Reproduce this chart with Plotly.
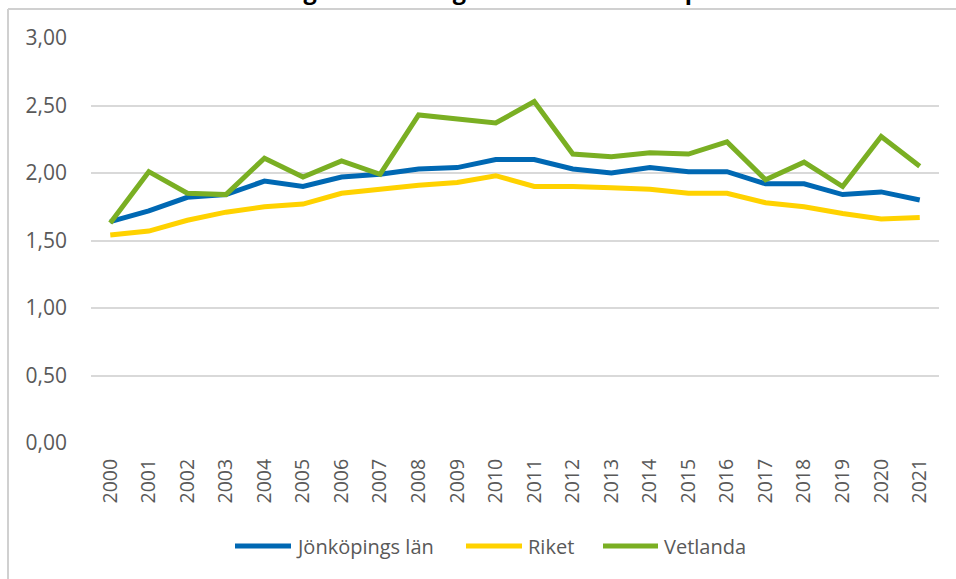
import plotly.graph_objects as go

years = [str(y) for y in range(2000, 2022)]
jonkoping = [1.64, 1.72, 1.82, 1.84, 1.94, 1.90, 1.97, 1.99, 2.03, 2.04, 2.10, 2.10,
             2.03, 2.00, 2.04, 2.01, 2.01, 1.92, 1.92, 1.84, 1.86, 1.80]
riket = [1.54, 1.57, 1.65, 1.71, 1.75, 1.77, 1.85, 1.88, 1.91, 1.93, 1.98, 1.90,
         1.90, 1.89, 1.88, 1.85, 1.85, 1.78, 1.75, 1.70, 1.66, 1.67]
vetlanda = [1.63, 2.01, 1.85, 1.84, 2.11, 1.97, 2.09, 1.99, 2.43, 2.40, 2.37, 2.53,
            2.14, 2.12, 2.15, 2.14, 2.23, 1.95, 2.08, 1.90, 2.27, 2.05]
series_names = ["Jönköpings län", "Riket", "Vetlanda"]
colors = ["#0068B3", "#FFD200", "#7AAF23"]
title_text = "Summerad fruktsamhet: genomsnittligt antal födda barn per kvinna 2000–2021"

W, H = 956, 579
L, R, T, B = 91, 17, 38, 136
PW, PH = W - L - R, H - T - B


def px_x(p):
    return (p - L) / PW


def px_y(p):
    return (H - B - p) / PH


font_fam = "Open Sans, Liberation Sans, sans-serif"
txt_col = "#595959"

fig = go.Figure()
for name, vals, col in zip(series_names, [jonkoping, riket, vetlanda], colors):
    fig.add_trace(go.Scatter(x=years, y=vals, name=name, mode="lines",
                             line=dict(color=col, width=5), showlegend=False))

border_col = "#D0D0D0"
shapes = [
    dict(type="line", xref="paper", yref="paper", x0=px_x(8), x1=px_x(W + 5),
         y0=px_y(9), y1=px_y(9), line=dict(color=border_col, width=2), layer="above"),
    dict(type="line", xref="paper", yref="paper", x0=px_x(8), x1=px_x(8),
         y0=px_y(9), y1=px_y(H + 5), line=dict(color=border_col, width=2), layer="above"),
]
annotations = []
legend_keys = [(235, 291, 294), (466, 522, 526), (603, 658, 662)]
leg_y = px_y(546)
for (x0, x1, xt), name, col in zip(legend_keys, series_names, colors):
    shapes.append(dict(type="line", xref="paper", yref="paper",
                       x0=px_x(x0), x1=px_x(x1), y0=leg_y, y1=leg_y,
                       line=dict(color=col, width=5), layer="above"))
    annotations.append(dict(text=name, xref="paper", yref="paper", x=px_x(xt), y=leg_y,
                            xanchor="left", yanchor="middle", showarrow=False,
                            font=dict(size=20, color=txt_col, family=font_fam)))

annotations.append(dict(text="<b>" + title_text + "</b>", xref="paper", yref="paper",
                        x=px_x(472), y=px_y(8), xanchor="center", yanchor="bottom",
                        showarrow=False,
                        font=dict(size=23.5, color="black", family=font_fam)))

fig.update_layout(
    width=W, height=H,
    margin=dict(l=L, r=R, t=T, b=B, autoexpand=False),
    paper_bgcolor="white", plot_bgcolor="white",
    separators=", ",
    font=dict(family=font_fam, color=txt_col, size=20),
    showlegend=False,
    xaxis=dict(type="category", range=[-0.5, len(years) - 0.5], tickangle=-90,
               showgrid=False, showline=False, ticks="", automargin=False,
               ticklabelstandoff=11, tickfont=dict(size=19.5, color=txt_col)),
    yaxis=dict(range=[0, 3], dtick=0.5, tickformat=".2f", showgrid=True,
               gridcolor="#D9D9D9", gridwidth=1.5, zeroline=False, showline=False,
               ticks="", automargin=False, ticklabelstandoff=23,
               tickfont=dict(size=21, color=txt_col)),
    shapes=shapes,
    annotations=annotations,
)
fig.write_html("out.html", config={"displayModeBar": False},
               post_script="document.body.style.margin='0px';")
